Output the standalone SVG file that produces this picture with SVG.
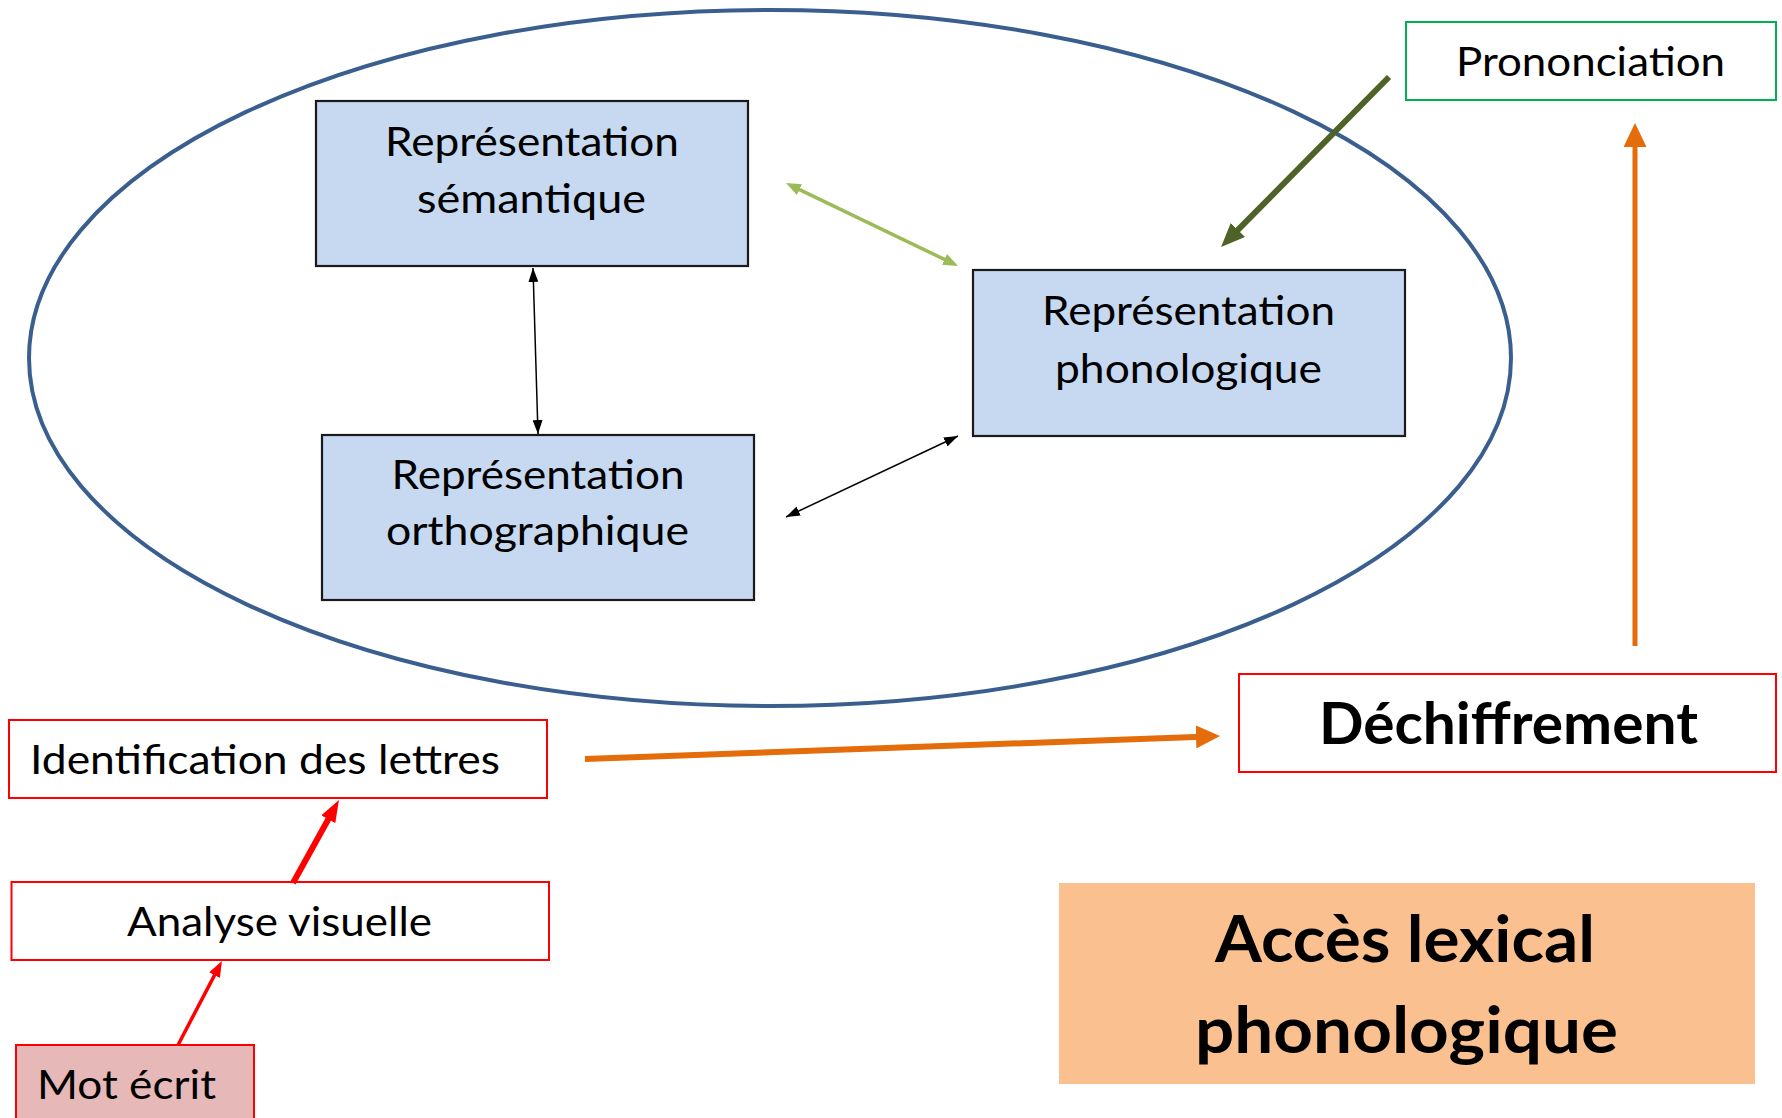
<svg xmlns="http://www.w3.org/2000/svg" width="1782" height="1118" viewBox="0 0 1782 1118">
<style>
.t{font-family:Lato,"Open Sans","Liberation Sans",sans-serif;font-size:40px;fill:#000;}
.b{font-family:Lato,"Open Sans","Liberation Sans",sans-serif;font-weight:bold;fill:#000;}
.blue{fill:#C6D9F1;stroke:#1a1a1a;stroke-width:2.2;}
.red{fill:#fff;stroke:#FF0000;stroke-width:2;}
</style>
<defs>
<marker id="hBlack" markerUnits="userSpaceOnUse" markerWidth="14" markerHeight="10" refX="14" refY="5" orient="auto-start-reverse"><path d="M0,0 L14,5 L0,10 z" fill="#000"/></marker>
<marker id="hGreen" markerUnits="userSpaceOnUse" markerWidth="15" markerHeight="12" refX="4" refY="6" orient="auto-start-reverse"><path d="M0,0 L15,6 L0,12 z" fill="#9BBB59"/></marker>
<marker id="hDark" markerUnits="userSpaceOnUse" markerWidth="24" markerHeight="20" refX="6" refY="10" orient="auto"><path d="M0,0 L24,10 L0,20 z" fill="#4F6228"/></marker>
<marker id="hOrange" markerUnits="userSpaceOnUse" markerWidth="24" markerHeight="23" refX="6" refY="11.5" orient="auto"><path d="M0,0 L24,11.5 L0,23 z" fill="#E46C0A"/></marker>
<marker id="hRedBig" markerUnits="userSpaceOnUse" markerWidth="22" markerHeight="16" refX="6" refY="8" orient="auto"><path d="M0,0 L22,8 L0,16 z" fill="#FF0000"/></marker>
<marker id="hRedSmall" markerUnits="userSpaceOnUse" markerWidth="16" markerHeight="12" refX="4" refY="6" orient="auto"><path d="M0,0 L16,6 L0,12 z" fill="#FF0000"/></marker>
</defs>
<rect width="1782" height="1118" fill="#fff"/>
<g id="ellipse"><ellipse cx="770" cy="358" rx="741" ry="348" fill="none" stroke="#3A5F8E" stroke-width="4"/></g>
<g id="semantique"><rect class="blue" x="316" y="101" width="432" height="165"/>
<text class="t" x="532" y="156" text-anchor="middle" textLength="294" lengthAdjust="spacingAndGlyphs">Représentation</text>
<text class="t" x="531.5" y="213" text-anchor="middle" textLength="229" lengthAdjust="spacingAndGlyphs">sémantique</text></g>
<g id="orthographique"><rect class="blue" x="322" y="435" width="432" height="165"/>
<text class="t" x="538" y="489" text-anchor="middle" textLength="293" lengthAdjust="spacingAndGlyphs">Représentation</text>
<text class="t" x="537.5" y="545" text-anchor="middle" textLength="303" lengthAdjust="spacingAndGlyphs">orthographique</text></g>
<g id="phonologique"><rect class="blue" x="973" y="270" width="432" height="166"/>
<text class="t" x="1188.5" y="325" text-anchor="middle" textLength="293" lengthAdjust="spacingAndGlyphs">Représentation</text>
<text class="t" x="1188.5" y="383" text-anchor="middle" textLength="267" lengthAdjust="spacingAndGlyphs">phonologique</text></g>
<g id="prononciation"><rect x="1406" y="22" width="370" height="78" fill="#fff" stroke="#00B050" stroke-width="2"/>
<text class="t" x="1590.5" y="76" text-anchor="middle" textLength="269" lengthAdjust="spacingAndGlyphs">Prononciation</text></g>
<g id="identification"><rect class="red" x="9" y="720" width="538" height="78"/>
<text class="t" x="30" y="774" textLength="470" lengthAdjust="spacingAndGlyphs">Identification des lettres</text></g>
<g id="analyse"><rect class="red" x="11.5" y="882" width="537.5" height="78"/>
<text class="t" x="127" y="936" textLength="305" lengthAdjust="spacingAndGlyphs">Analyse visuelle</text></g>
<g id="mot"><rect x="16" y="1045" width="238" height="90" fill="#E6B8B7" stroke="#FF0000" stroke-width="2"/>
<text class="t" x="37" y="1099" textLength="179" lengthAdjust="spacingAndGlyphs">Mot écrit</text></g>
<g id="dechiffrement"><rect class="red" x="1239" y="674" width="537" height="98"/>
<text class="b" x="1319" y="744" font-size="57" textLength="379" lengthAdjust="spacingAndGlyphs">Déchiffrement</text></g>
<g id="acces"><rect x="1059" y="883" width="696" height="201" fill="#FAC090"/>
<text class="b" x="1215" y="962" font-size="65" textLength="380" lengthAdjust="spacingAndGlyphs">Accès lexical</text>
<text class="b" x="1195" y="1053" font-size="65" textLength="423" lengthAdjust="spacingAndGlyphs">phonologique</text></g>
<g id="connectors" fill="none">
<line x1="533" y1="268" x2="538" y2="434" stroke="#000" stroke-width="1.5" marker-start="url(#hBlack)" marker-end="url(#hBlack)"/>
<line x1="786" y1="517" x2="958" y2="436" stroke="#000" stroke-width="1.5" marker-start="url(#hBlack)" marker-end="url(#hBlack)"/>
<line x1="795.9" y1="187.8" x2="948.1" y2="261.2" stroke="#9BBB59" stroke-width="3.5" marker-start="url(#hGreen)" marker-end="url(#hGreen)"/>
<line x1="1389" y1="77" x2="1233.7" y2="234.2" stroke="#4F6228" stroke-width="6" marker-end="url(#hDark)"/>
<line x1="1635" y1="646" x2="1635" y2="141" stroke="#E46C0A" stroke-width="5" marker-end="url(#hOrange)"/>
<line x1="585" y1="759" x2="1202" y2="736.7" stroke="#E46C0A" stroke-width="6" marker-end="url(#hOrange)"/>
<line x1="293" y1="883" x2="331.2" y2="814" stroke="#FF0000" stroke-width="6" marker-end="url(#hRedBig)"/>
<line x1="178" y1="1045" x2="216.4" y2="971.6" stroke="#FF0000" stroke-width="3.5" marker-end="url(#hRedSmall)"/>
</g>
</svg>
